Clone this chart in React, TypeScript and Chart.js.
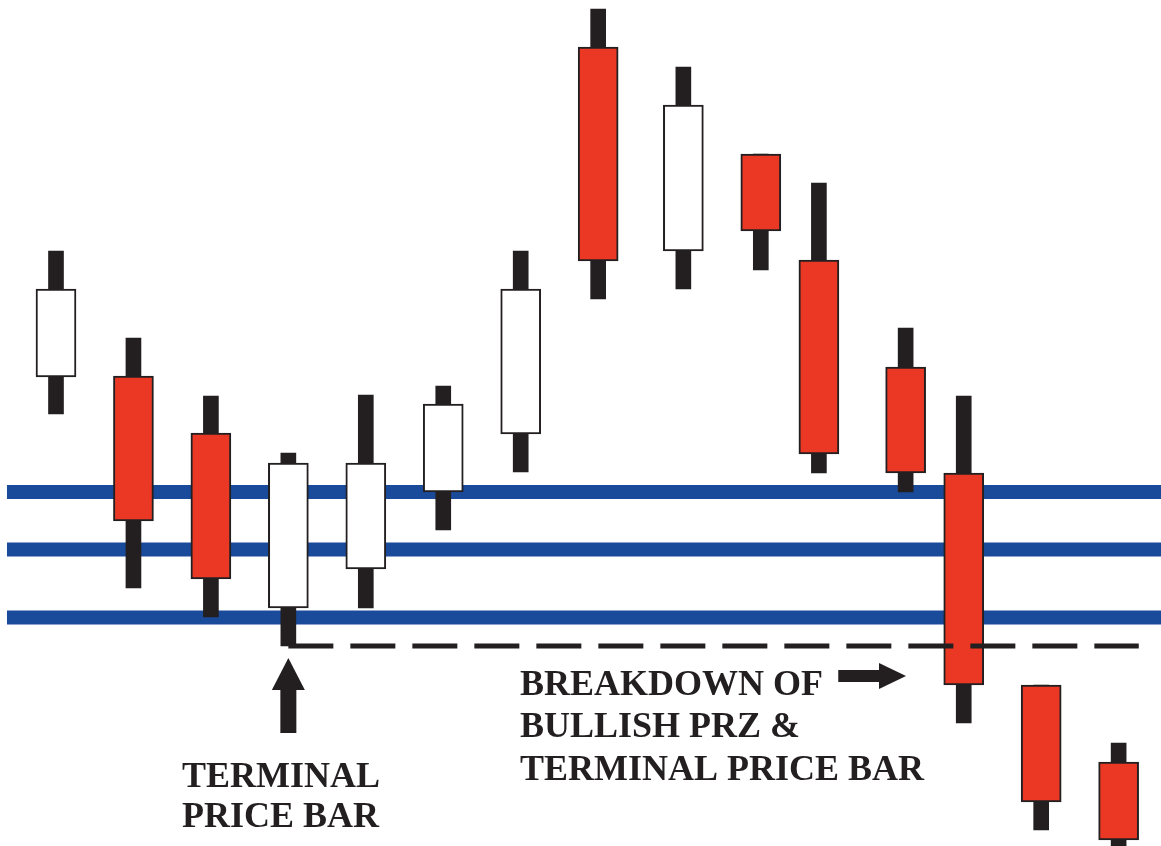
import { useEffect, useRef } from "react";
import { Chart, registerables } from "chart.js";

Chart.register(...registerables);

// ---- Data (price units) ----
const candleX = [1, 2, 3, 4, 5, 6, 7, 8, 9.1, 10.1, 10.85, 11.97, 12.72, 13.72, 14.72];
const openP = [46.9, 47.0, 41.3, 23.8, 27.7, 35.4, 41.2, 79.9, 59.5, 69.2, 58.6, 47.9, 37.3, 16.1, 8.4];
const highP = [59.5, 50.8, 45.0, 39.3, 45.1, 46.0, 59.5, 83.7, 77.9, 69.2, 66.3, 51.8, 45.0, 16.1, 10.3];
const lowP = [43.2, 25.8, 22.9, 20.0, 23.8, 31.6, 37.4, 54.7, 55.7, 57.6, 37.3, 35.4, 12.3, 1.6, -2.0];
const closeP = [55.7, 32.5, 26.7, 38.3, 38.3, 44.2, 55.7, 58.5, 74.1, 61.5, 39.2, 37.3, 16.1, 4.4, 0.6];

const przLevels = [35.4, 29.65, 22.85];
const terminalBarIndex = 3;
const terminalLow = 20.0;
const breakdownEndX = 14.98;

const leftLabel = ["TERMINAL", "PRICE BAR"];
const rightLabel = ["BREAKDOWN OF", "BULLISH PRZ &", "TERMINAL PRICE BAR"];

// ---- Styles / layout ----
const X_MIN = 0.277;
const X_MAX = 15.267;
const Y_MIN = 0;
const Y_MAX = 84.6;
const INK = "#231f20";
const RED = "#ea3825";
const BLUE = "#1a4b9b";
const W = 1161;
const H = 846;

const annotatePlugin = {
  id: "annotate",
  afterDatasetsDraw(chart: any) {
    const { ctx } = chart;
    const xs = chart.scales.x;
    const ys = chart.scales.y;
    ctx.save();
    ctx.fillStyle = INK;

    // Up arrow under the terminal price bar
    const ax = xs.getPixelForValue(candleX[terminalBarIndex]);
    const tipY = ys.getPixelForValue(18.8);
    const baseY = ys.getPixelForValue(11.3);
    const headH = 32;
    ctx.fillRect(ax - 8, tipY + headH - 0.5, 16, baseY - tipY - headH + 0.5);
    ctx.beginPath();
    ctx.moveTo(ax, tipY);
    ctx.lineTo(ax - 16.5, tipY + headH);
    ctx.lineTo(ax + 16.5, tipY + headH);
    ctx.closePath();
    ctx.fill();

    // Right arrow pointing to the breakdown bar
    const ry = ys.getPixelForValue(17.0);
    const rx0 = xs.getPixelForValue(11.1);
    const rx1 = xs.getPixelForValue(11.975);
    const headL = 27;
    ctx.fillRect(rx0, ry - 6, rx1 - rx0 - headL + 0.5, 12);
    ctx.beginPath();
    ctx.moveTo(rx1, ry);
    ctx.lineTo(rx1 - headL, ry - 13);
    ctx.lineTo(rx1 - headL, ry + 13);
    ctx.closePath();
    ctx.fill();

    // Labels
    ctx.font = 'bold 36px "Liberation Serif", "Times New Roman", serif';
    ctx.textBaseline = "alphabetic";
    ctx.textAlign = "left";
    const lx = xs.getPixelForValue(2.627);
    const lBase = [5.9, 1.9];
    leftLabel.forEach((t, i) => ctx.fillText(t, lx, ys.getPixelForValue(lBase[i])));
    const rx = xs.getPixelForValue(6.991);
    const rBase = [15.1, 10.9, 6.6];
    rightLabel.forEach((t, i) => ctx.fillText(t, rx, ys.getPixelForValue(rBase[i])));

    ctx.restore();
  },
};

export default function App() {
  const canvasRef = useRef<HTMLCanvasElement | null>(null);

  useEffect(() => {
    const canvas = canvasRef.current;
    if (!canvas) return;

    const wickData = candleX.map((x, i) => ({ x, y: [lowP[i], highP[i]] }));
    const bodyData = candleX.map((x, i) => ({ x, y: [openP[i], closeP[i]] }));
    const bodyColors = candleX.map((_, i) => (closeP[i] >= openP[i] ? "#ffffff" : RED));

    const przDatasets = przLevels.map((lvl) => ({
      type: "line" as const,
      data: [
        { x: 0.367, y: lvl },
        { x: X_MAX + 1, y: lvl },
      ],
      borderColor: BLUE,
      borderWidth: 14,
      pointRadius: 0,
      fill: false,
      order: 4,
      clip: false as any,
    }));

    const chart = new Chart(canvas, {
      type: "bar",
      data: {
        datasets: [
          ...przDatasets,
          {
            type: "bar",
            data: wickData as any,
            backgroundColor: INK,
            borderWidth: 0,
            barThickness: 15,
            grouped: false,
            order: 3,
          },
          {
            type: "bar",
            data: bodyData as any,
            backgroundColor: bodyColors,
            borderColor: INK,
            borderWidth: 2,
            borderSkipped: false,
            barThickness: 40,
            grouped: false,
            order: 2,
          },
          {
            type: "line",
            data: [
              { x: candleX[terminalBarIndex], y: terminalLow },
              { x: breakdownEndX, y: terminalLow },
            ],
            borderColor: INK,
            borderWidth: 5,
            borderDash: [45, 17],
            pointRadius: 0,
            fill: false,
            order: 1,
          },
        ] as any,
      },
      options: {
        responsive: false,
        animation: false,
        devicePixelRatio: 1,
        events: [],
        layout: { padding: 0 },
        plugins: {
          legend: { display: false },
          tooltip: { enabled: false },
          title: { display: false },
        },
        scales: {
          x: {
            type: "linear",
            display: false,
            min: X_MIN,
            max: X_MAX,
            offset: false,
          },
          y: {
            type: "linear",
            display: false,
            min: Y_MIN,
            max: Y_MAX,
          },
        },
      },
      plugins: [annotatePlugin],
    });

    return () => chart.destroy();
  }, []);

  return (
    <div style={{ position: "fixed", left: 0, top: 0, width: W, height: H, background: "#ffffff" }}>
      <canvas ref={canvasRef} width={W} height={H} style={{ display: "block" }} />
    </div>
  );
}
